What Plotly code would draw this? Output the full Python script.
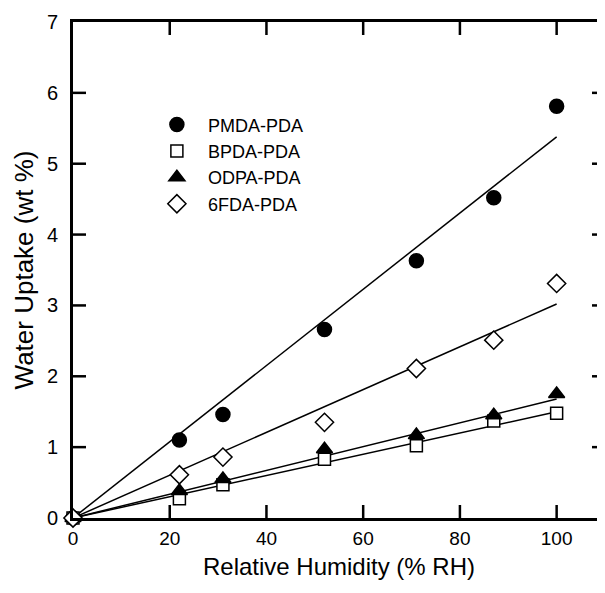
import plotly.graph_objects as go

rh = [0, 22, 31, 52, 71, 87, 100]
pmda = [0, 1.10, 1.46, 2.66, 3.63, 4.52, 5.81]
bpda = [0, 0.27, 0.47, 0.83, 1.02, 1.37, 1.48]
odpa = [0, 0.38, 0.55, 0.97, 1.17, 1.45, 1.75]
fda6 = [0, 0.61, 0.86, 1.35, 2.11, 2.51, 3.31]

fit_x = [0, 100]
fit_pmda = [0, 5.38]
fit_bpda = [0, 1.50]
fit_odpa = [0, 1.68]
fit_fda6 = [0, 3.02]

x_ticks = [0, 20, 40, 60, 80, 100]
y_ticks = [0, 1, 2, 3, 4, 5, 6, 7]
x_range = [0, 110]
y_range = [0, 7]

names = ["PMDA-PDA", "BPDA-PDA", "ODPA-PDA", "6FDA-PDA"]
series = [pmda, bpda, odpa, fda6]
fits = [fit_pmda, fit_bpda, fit_odpa, fit_fda6]
symbols = ["circle", "square", "triangle-up", "diamond"]
fills = ["black", "white", "black", "white"]
sizes = [14, 12, 14, 14]

FONT = "Liberation Sans, Arial, sans-serif"

fig = go.Figure()
for f in fits:
    fig.add_trace(go.Scatter(x=fit_x, y=f, mode="lines",
                             line=dict(color="black", width=1.5),
                             showlegend=False, hoverinfo="skip"))

# inward tick marks on all four sides, built from the tick values
TICK_PX = 13
plot_w, plot_h = 532, 496
len_x = TICK_PX * (x_range[1] - x_range[0]) / plot_w
len_y = TICK_PX * (y_range[1] - y_range[0]) / plot_h
tx, ty = [], []
for t in x_ticks[1:]:
    tx += [t, t, None, t, t, None]
    ty += [y_range[0], y_range[0] + len_y, None, y_range[1] - len_y, y_range[1], None]
for t in y_ticks[1:-1]:
    tx += [x_range[0], x_range[0] + len_x, None, x_range[1] - len_x, x_range[1], None]
    ty += [t, t, None, t, t, None]
fig.add_trace(go.Scatter(x=tx, y=ty, mode="lines", line=dict(color="black", width=2.5),
                         showlegend=False, hoverinfo="skip", cliponaxis=False))

for name, s, sym, fc, sz in zip(names, series, symbols, fills, sizes):
    fig.add_trace(go.Scatter(x=rh, y=s, mode="markers", name=name,
                             cliponaxis=False,
                             marker=dict(symbol=sym, color=fc, size=sz,
                                         line=dict(color="black", width=1.5))))

fig.update_layout(
    width=597, height=577,
    margin=dict(l=65, r=0, t=14, b=67, autoexpand=False),
    paper_bgcolor="white", plot_bgcolor="white",
    showlegend=True,
    legend=dict(x=0.137, y=0.83, xanchor="left", yanchor="top",
                bgcolor="rgba(0,0,0,0)", borderwidth=0,
                font=dict(family=FONT, size=18, color="black"),
                itemwidth=52, tracegroupgap=0),
    xaxis=dict(range=x_range, tickmode="array", tickvals=x_ticks,
               showline=True, linewidth=3, linecolor="black", mirror=True,
               ticks="", showgrid=False, zeroline=False,
               tickfont=dict(family=FONT, size=19, color="black"),
               ticklabelstandoff=1,
               title=dict(text="Relative Humidity (% RH)",
                          font=dict(family=FONT, size=24, color="black"),
                          standoff=11)),
    yaxis=dict(range=y_range, tickmode="array", tickvals=y_ticks,
               showline=True, linewidth=3, linecolor="black", mirror=True,
               ticks="", showgrid=False, zeroline=False,
               tickfont=dict(family=FONT, size=20, color="black"),
               ticklabelstandoff=8,
               title=dict(text="Water Uptake (wt %)",
                          font=dict(family=FONT, size=26, color="black"),
                          standoff=6)),
)

fig.write_html("out.html")
